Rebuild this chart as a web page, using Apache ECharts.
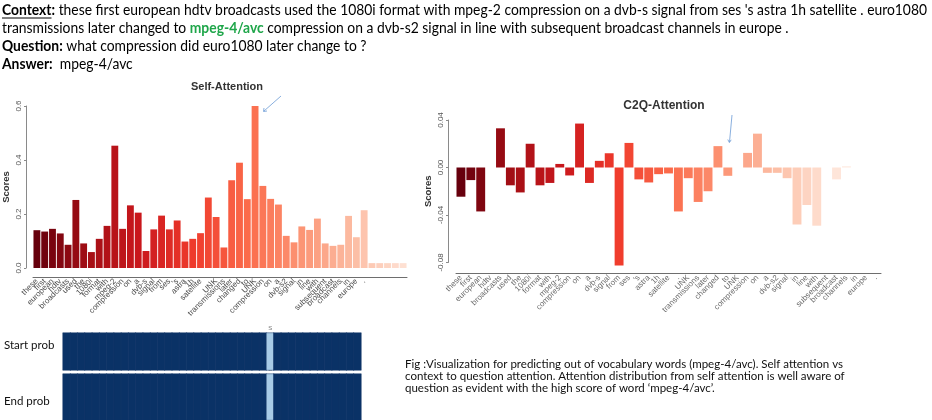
<!DOCTYPE html>
<html>
<head>
<meta charset="utf-8">
<script src="https://cdn.jsdelivr.net/npm/echarts@6/dist/echarts.min.js"></script>
<style>
html, body { margin: 0; padding: 0; background: #fff; }
#main { width: 932px; height: 420px; }
</style>
</head>
<body>
<div id="main"></div>
<script>
// context tokens (x labels of both attention plots)
const tokens = ['these', 'first', 'european', 'hdtv', 'broadcasts', 'used', 'the', '1080i', 'format', 'with',
  'mpeg-2', 'compression', 'on', 'a', 'dvb-s', 'signal', 'from', 'ses', "'s", 'astra', '1h', 'satellite', '.',
  'UNK', 'transmissions', 'later', 'changed', 'to', 'UNK', 'compression', 'on', 'a', 'dvb-s2', 'signal', 'in',
  'line', 'with', 'subsequent', 'broadcast', 'channels', 'in', 'europe', '.']
const padding = ['', '', '', '', '']

// self attention scores (43 tokens + 5 padding)
const selfScores = [0.140, 0.135, 0.145, 0.128, 0.086, 0.252, 0.091, 0.059, 0.108, 0.156,
  0.453, 0.145, 0.232, 0.205, 0.063, 0.143, 0.194, 0.143, 0.176, 0.098,
  0.108, 0.129, 0.261, 0.189, 0.076, 0.325, 0.390, 0.255, 0.600, 0.304,
  0.256, 0.235, 0.119, 0.095, 0.154, 0.141, 0.183, 0.091, 0.082, 0.086,
  0.193, 0.114, 0.214, 0.018, 0.018, 0.018, 0.018, 0.018]
const selfTicks = [0, 0.2, 0.4, 0.6]

// context-to-question attention scores
const c2qScores = [-0.0246, -0.0106, -0.037, 0, 0.033, -0.015, -0.021, 0.020, -0.015, -0.013,
  0.003, -0.0067, 0.037, -0.013, 0.0056, 0.012, -0.0825, 0.0207, -0.010, -0.0126,
  -0.0056, -0.005, -0.037, -0.009, -0.029, -0.020, 0.018, -0.007, 0, 0.0123,
  0.0285, -0.0045, -0.0045, -0.009, -0.048, -0.0316, -0.049, 0, -0.010, 0.001,
  0, 0, 0]
const c2qTicks = [-0.08, -0.04, 0, 0.04]

// start / end probabilities over the passage
const startProb = [0, 0, 0, 0, 0, 0, 0, 0, 0, 0, 0, 0, 0, 0, 0, 0, 0, 0, 0, 0,
  0, 0, 0, 0, 0, 0, 0, 0, 1, 0, 0, 0, 0, 0, 0, 0, 0, 0, 0, 0, 0]
const endProb = [0, 0, 0, 0, 0, 0, 0, 0, 0, 0, 0, 0, 0, 0, 0, 0, 0, 0, 0, 0,
  0, 0, 0, 0, 0, 0, 0, 0, 1, 0, 0, 0, 0, 0, 0, 0, 0, 0, 0, 0, 0]
const startTicks = ['', '', '', '', '', '', '', '', '', '', '', '', '', '', '', '', '', '', '', '',
  '', '', '', '', '', '', '', '', 'S', '', '', '', '', '', '', '', '', '', '', '', '']
const endTicks = ['', '', '', '', '', '', '', '', '', '', '', '', '', '', '', '', '', '', '', '',
  '', '', '', '', '', '', '', '', 'E', '', '', '', '', '', '', '', '', '', '', '', '']

// texts
const topLines = [
  [{t: 'Context', b: 1}, {t: ':', b: 1}, {t: " these first european hdtv broadcasts used the 1080i format with mpeg-2 compression on a dvb-s signal from ses 's astra 1h satellite . euro1080"}],
  [{t: 'transmissions later changed to '}, {t: 'mpeg-4/avc', b: 1, g: 1}, {t: ' compression on a dvb-s2 signal in line with subsequent broadcast channels in europe .'}],
  [{t: 'Question:', b: 1}, {t: ' what compression did euro1080 later change to ?'}],
  [{t: 'Answer:', b: 1}, {t: '  mpeg-4/avc'}]
]
const caption = [
  'Fig :Visualization for predicting out of vocabulary words (mpeg-4/avc). Self attention vs',
  'context to question attention. Attention distribution from self attention is well aware of',
  'question as evident with the high score of word \u2018mpeg-4/avc\u2019.'
]

const FONT = 'Lato'
const AXFONT = 'Liberation Sans'
const REDS = ['#67000d', '#a50f15', '#cb181d', '#ef3b2c', '#fb6a4a', '#fc9272', '#fcbba1', '#fee0d2', '#fff5f0']

const ctx = document.createElement('canvas').getContext('2d')
function measure(parts, size){
  let s = 0
  parts.forEach(p => {
    ctx.font = (p.b ? 'bold ' : '') + size + 'px ' + FONT
    s += ctx.measureText(p.t).width
  })
  return s
}
function hex(c){ return [1, 3, 5].map(i => parseInt(c.substr(i, 2), 16)) }
function ramp(stops, t){
  const p = t * (stops.length - 1)
  const i = Math.min(Math.floor(p), stops.length - 2)
  const f = p - i
  const a = hex(stops[i]), b = hex(stops[i + 1])
  return 'rgb(' + a.map((v, k) => Math.round(v + (b[k] - v) * f)).join(',') + ')'
}

const TOP_SIZE = 15
const topScale = 925 / measure(topLines[0], TOP_SIZE)
const CAP_SIZE = 10.5
const capScale = 438 / measure([{t: caption[0]}], CAP_SIZE)

const graphics = []
topLines.forEach((line, li) => {
  const str = line.map(p => '{' + (p.g ? 'g' : p.b ? 'b' : 'n') + '|' + p.t + '}').join('')
  graphics.push({
    type: 'text', x: 2, y: 10 + li * 18, scaleX: topScale,
    style: {
      text: str, verticalAlign: 'middle',
      rich: {
        n: {fontFamily: FONT, fontSize: TOP_SIZE, fill: '#000'},
        b: {fontFamily: FONT, fontSize: TOP_SIZE, fontWeight: 'bold', fill: '#000'},
        g: {fontFamily: FONT, fontSize: TOP_SIZE, fontWeight: 'bold', fill: '#1fa64a'}
      }
    }
  })
})
// underline under "Context"
const ulw = measure([topLines[0][0]], TOP_SIZE) * topScale
graphics.push({type: 'line', shape: {x1: 2, y1: 18, x2: 2 + ulw, y2: 18}, style: {stroke: '#000', lineWidth: 1}})

caption.forEach((c, i) => {
  graphics.push({
    type: 'text', x: 405, y: 365 + i * 11.7, scaleX: capScale,
    style: {text: c, fontFamily: FONT, fontSize: CAP_SIZE, fill: '#111', verticalAlign: 'middle'}
  })
})

graphics.push(
  {type: 'text', x: 227, y: 87, style: {text: 'Self-Attention', fontFamily: AXFONT, fontWeight: 'bold', fontSize: 11, fill: '#333', align: 'center', verticalAlign: 'middle'}},
  {type: 'text', x: 664, y: 106, style: {text: 'C2Q-Attention', fontFamily: AXFONT, fontWeight: 'bold', fontSize: 12, fill: '#333', align: 'center', verticalAlign: 'middle'}},
  {type: 'text', x: 4, y: 345, style: {text: 'Start prob', fontFamily: FONT, fontSize: 11.5, fill: '#111', verticalAlign: 'middle'}},
  {type: 'text', x: 4, y: 401, style: {text: 'End prob', fontFamily: FONT, fontSize: 11.5, fill: '#111', verticalAlign: 'middle'}},
  // arrows
  {type: 'line', shape: {x1: 281, y1: 96, x2: 264, y2: 111}, style: {stroke: '#6b9bd6', lineWidth: 0.8}},
  {type: 'polyline', shape: {points: [[264, 108], [263.5, 111.5], [267, 111]]}, style: {stroke: '#6b9bd6', lineWidth: 0.8, fill: null}},
  {type: 'line', shape: {x1: 732, y1: 115, x2: 729.5, y2: 142}, style: {stroke: '#6b9bd6', lineWidth: 0.8}},
  {type: 'polyline', shape: {points: [[727.8, 139.5], [729.4, 142.6], [731.2, 139.8]]}, style: {stroke: '#6b9bd6', lineWidth: 0.8, fill: null}}
)

function valueAxis(gridIndex, ticks, fmt, offset){
  return {
    type: 'value', gridIndex: gridIndex,
    min: ticks[0], max: ticks[ticks.length - 1], interval: ticks[1] - ticks[0],
    offset: offset,
    name: 'Scores', nameLocation: 'middle', nameGap: 15,
    nameTextStyle: {fontFamily: AXFONT, fontWeight: 'bold', fontSize: 9.5, color: '#333'},
    axisLine: {show: true, onZero: false, lineStyle: {color: '#8a8a8a', width: 1}},
    axisTick: {show: true, length: 2, lineStyle: {color: '#8a8a8a'}},
    axisLabel: {rotate: 90, margin: 3, fontFamily: AXFONT, fontSize: 8, color: '#555', formatter: fmt},
    splitLine: {show: false}
  }
}
function catAxis(gridIndex, data, offset, color){
  return {
    type: 'category', gridIndex: gridIndex, data: data, offset: offset,
    axisLine: {show: true, onZero: false, lineStyle: {color: '#6e6e6e', width: 1}},
    axisTick: {show: false},
    axisLabel: {interval: 0, rotate: 45, margin: 3, fontFamily: AXFONT, fontSize: 8, color: color}
  }
}
function heatX(gridIndex, ticks){
  return {
    type: 'category', gridIndex: gridIndex, data: ticks, position: 'top',
    axisLine: {show: false}, axisTick: {show: false}, splitArea: {show: false},
    axisLabel: {interval: 0, margin: 2, fontFamily: AXFONT, fontSize: 6, color: '#777'}
  }
}
function heatY(gridIndex){
  return {type: 'category', gridIndex: gridIndex, data: [''], axisLine: {show: false}, axisTick: {show: false}, axisLabel: {show: false}}
}

const selfCats = tokens.concat(padding)

const option = {
  animation: false,
  backgroundColor: '#fff',
  grid: [
    {left: 33, top: 106, width: 374, height: 162},
    {left: 456, top: 120, width: 425, height: 142.5},
    {left: 63, top: 333, width: 298, height: 37},
    {left: 63, top: 374, width: 298, height: 46}
  ],
  xAxis: [
    catAxis(0, selfCats, 9, '#4a4a4a'),
    catAxis(1, tokens, 11, '#6a6a6a'),
    heatX(2, startTicks),
    heatX(3, endTicks)
  ],
  yAxis: [
    valueAxis(0, selfTicks, v => v.toFixed(1), 7),
    valueAxis(1, c2qTicks, v => v.toFixed(2), 8),
    heatY(2),
    heatY(3)
  ],
  visualMap: {
    show: false, seriesIndex: [2, 3], min: 0, max: 1,
    inRange: {color: ['#0a3266', '#a7cbe6']}
  },
  series: [
    {
      type: 'bar', xAxisIndex: 0, yAxisIndex: 0, barCategoryGap: '12%',
      data: selfScores.map((v, i) => ({value: v, itemStyle: {color: ramp(REDS.slice(0, 8), i / (selfScores.length - 1))}}))
    },
    {
      type: 'bar', xAxisIndex: 1, yAxisIndex: 1, barCategoryGap: '10%', clip: false,
      data: c2qScores.map((v, i) => ({value: v, itemStyle: {color: ramp(REDS, i / (c2qScores.length - 1))}}))
    },
    {
      type: 'heatmap', xAxisIndex: 2, yAxisIndex: 2,
      itemStyle: {borderColor: '#17396a', borderWidth: 0.5},
      data: startProb.map((v, i) => [i, 0, v])
    },
    {
      type: 'heatmap', xAxisIndex: 3, yAxisIndex: 3,
      itemStyle: {borderColor: '#17396a', borderWidth: 0.5},
      data: endProb.map((v, i) => [i, 0, v])
    }
  ],
  graphic: graphics
}

const myChart = echarts.init(document.getElementById('main'))
myChart.setOption(option)
</script>
</body>
</html>
